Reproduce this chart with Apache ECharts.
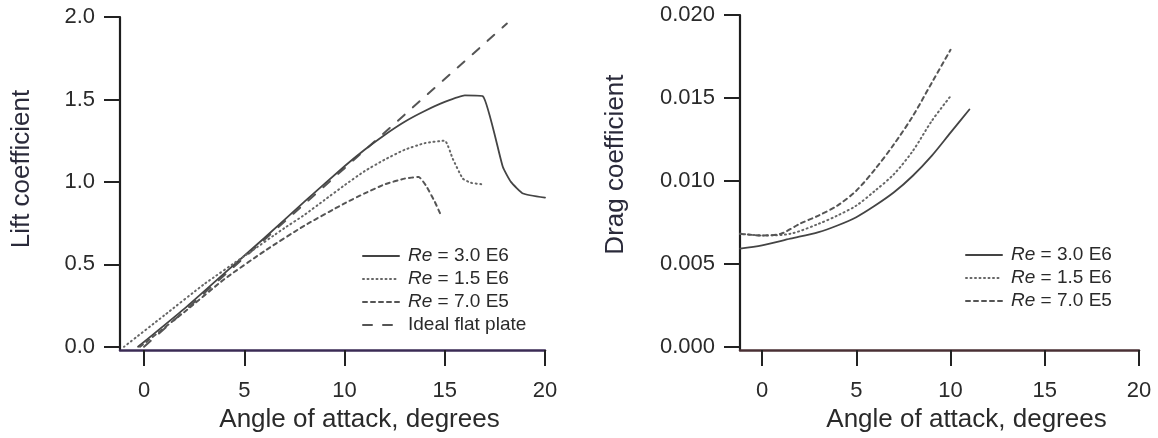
<!DOCTYPE html>
<html>
<head>
<meta charset="utf-8">
<script src="https://cdn.jsdelivr.net/npm/echarts@6/dist/echarts.min.js"></script>
<style>
  html, body { margin: 0; padding: 0; background: #fff; }
  #chart { width: 1158px; height: 438px; }
</style>
</head>
<body>
<div id="chart"></div>
<script>
// angle of attack (deg), lift coefficient
var lift30 = [[-0.3, 0], [2, 0.23], [4, 0.445], [6, 0.66], [8, 0.88], [10, 1.095], [11, 1.195], [12, 1.285], [13, 1.365], [14, 1.43], [15, 1.485], [16, 1.525], [16.9, 1.52], [17.9, 1.09], [18.3, 1.0], [18.9, 0.93], [20, 0.905]]
var lift15 = [[-1, 0], [1, 0.19], [3, 0.38], [5, 0.55], [7, 0.72], [8, 0.8], [9, 0.89], [10, 0.98], [11, 1.065], [12, 1.135], [13, 1.195], [14, 1.235], [15, 1.25], [15.4, 1.14], [15.9, 1.02], [16.3, 0.995], [16.9, 0.985]]
var lift07 = [[-0.2, 0], [2, 0.21], [4, 0.41], [6, 0.58], [8, 0.735], [10, 0.87], [11, 0.93], [12, 0.985], [13, 1.02], [13.7, 1.03], [14.05, 0.98], [14.5, 0.88], [14.8, 0.8]]
var liftIdeal = [[0, 0], [18.1, 1.96]]

// angle of attack (deg), drag coefficient
var drag30 = [[-1.17, 0.0059], [0, 0.0061], [1.5, 0.0065], [3, 0.0069], [4, 0.0073], [5, 0.0078], [6, 0.0085], [7, 0.0093], [8, 0.0103], [9, 0.0115], [10, 0.0129], [11, 0.0143]]
var drag15 = [[-1.17, 0.0068], [0, 0.0067], [1.5, 0.0068], [3, 0.0074], [4, 0.0079], [5, 0.0085], [6, 0.0094], [7, 0.0104], [8, 0.0118], [9, 0.0136], [10, 0.0151]]
var drag07 = [[-1.17, 0.0068], [0, 0.0067], [1, 0.0068], [2, 0.0074], [3, 0.0079], [4, 0.0085], [5, 0.0094], [6, 0.0107], [7, 0.0122], [8, 0.0139], [9, 0.0159], [10, 0.0179]]

var xTicks = [0, 5, 10, 15, 20]
var liftTicks = [0, 0.5, 1.0, 1.5, 2.0]
var dragTicks = [0, 0.005, 0.010, 0.015, 0.020]

var names = ['Re = 3.0 E6', 'Re = 1.5 E6', 'Re = 7.0 E5', 'Ideal flat plate']

var font = 'Liberation Sans, Arial, Helvetica, sans-serif'
var textColor = '#2a2a2a'

function xAxisOf (idx, min, lineColor) {
  return {
    gridIndex: idx,
    type: 'value',
    min: min,
    max: 20,
    name: 'Angle of attack, degrees',
    nameLocation: 'middle',
    nameGap: 55,
    nameTextStyle: { fontFamily: font, fontSize: 26, color: textColor, padding: [0, 0, 0, 54] },
    axisLine: { onZero: false, lineStyle: { color: lineColor, width: 2.5 } },
    axisTick: { length: 16, customValues: xTicks, lineStyle: { color: '#222', width: 2 } },
    axisLabel: { customValues: xTicks, margin: 30, fontFamily: font, fontSize: 22, color: textColor },
    splitLine: { show: false }
  }
}

function yAxisOf (idx, min, max, ticks, name, digits, gap, shift) {
  return {
    gridIndex: idx,
    type: 'value',
    min: min,
    max: max,
    name: name,
    nameLocation: 'middle',
    nameGap: gap,
    nameTextStyle: { fontFamily: font, fontSize: 26, color: '#2a2a3a', padding: [0, 0, 0, shift] },
    axisLine: { onZero: false, lineStyle: { color: '#1e1e1e', width: 2.2 } },
    axisTick: { length: 16, customValues: ticks, lineStyle: { color: '#222', width: 2 } },
    axisLabel: {
      customValues: ticks,
      margin: 25,
      fontFamily: font,
      fontSize: 22,
      color: textColor,
      formatter: function (v) { return v.toFixed(digits) }
    },
    splitLine: { show: false }
  }
}

function line (name, data, idx, type, width, color, smooth) {
  return {
    name: name,
    type: 'line',
    xAxisIndex: idx,
    yAxisIndex: idx,
    data: data,
    symbol: 'none',
    smooth: smooth,
    lineStyle: { type: type, width: width, color: color, cap: 'round' },
    itemStyle: { color: color }
  }
}

// legend rows: line sample only, no marker dot
function legendOf (left, top, data) {
  return {
    orient: 'vertical',
    left: left,
    top: top,
    padding: 0,
    data: data,
    itemWidth: 36,
    itemHeight: 14,
    itemGap: 3,
    selectedMode: false,
    itemStyle: { opacity: 0 },
    textStyle: {
      fontFamily: font,
      fontSize: 19,
      lineHeight: 20,
      color: textColor,
      padding: [0, 0, 0, 4],
      rich: { i: { fontStyle: 'italic', fontFamily: font, fontSize: 19, color: textColor } }
    },
    formatter: function (n) {
      return n.indexOf('Re') === 0 ? '{i|Re}' + n.slice(2) : n
    }
  }
}

var chart = echarts.init(document.getElementById('chart'))
chart.setOption({
  animation: false,
  backgroundColor: '#fff',
  grid: [
    { left: 120, top: 17, width: 425, height: 335 },
    { left: 740, top: 15, width: 399, height: 337 }
  ],
  xAxis: [
    xAxisOf(0, -1.2, '#3b2b55'),
    xAxisOf(1, -1.17, '#4a3035')
  ],
  yAxis: [
    yAxisOf(0, -0.02, 2.0, liftTicks, 'Lift coefficient', 1, 85, 29),
    yAxisOf(1, -0.00022, 0.020, dragTicks, 'Drag coefficient', 3, 111, 36)
  ],
  legend: [
    legendOf(362, 246, names),
    legendOf(965, 245, names.slice(0, 3))
  ],
  series: [
    line(names[3], liftIdeal, 0, [9, 11], 2, '#555', false),
    line(names[0], lift30, 0, 'solid', 1.8, '#444', 0.15),
    line(names[1], lift15, 0, [1, 3.5], 2, '#666', 0.15),
    line(names[2], lift07, 0, [4, 4], 2, '#555', 0.15),
    line(names[0], drag30, 1, 'solid', 1.8, '#444', 0.3),
    line(names[1], drag15, 1, [1, 3.5], 2, '#666', 0.3),
    line(names[2], drag07, 1, [4, 4], 2, '#555', 0.3)
  ]
})
</script>
</body>
</html>
